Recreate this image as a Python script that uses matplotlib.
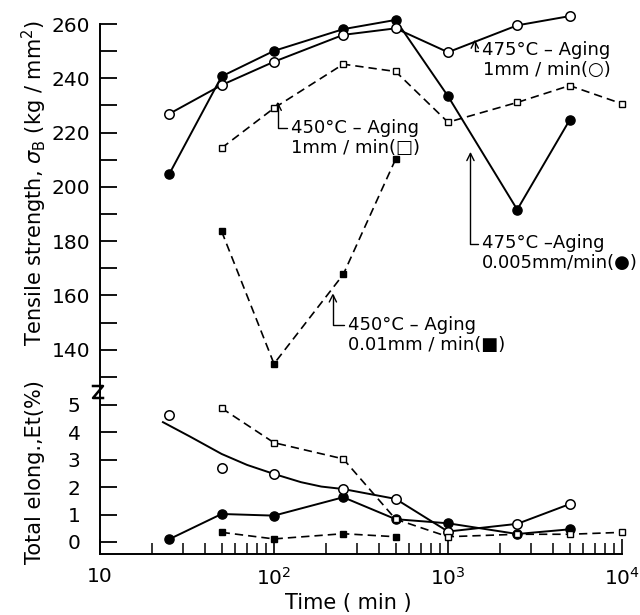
import matplotlib
matplotlib.use('Agg')
import matplotlib.pyplot as plt
from matplotlib.lines import Line2D
from matplotlib.ticker import MultipleLocator, FixedLocator, LogLocator, NullFormatter

plt.rcParams['font.family'] = ['DejaVu Sans']
plt.rcParams['mathtext.fontset'] = 'dejavusans'

# ---------------- data ----------------
t8 = [25, 50, 100, 250, 500, 1000, 2500, 5000]
t_sq_open = [50, 100, 250, 500, 1000, 2500, 5000, 10000]
t_sq_closed = [50, 100, 250, 500]

# tensile strength (kg/mm2)
ts_475_1 = [226.9, 237.5, 246.1, 256.0, 258.4, 249.6, 259.5, 262.9]      # open circle
ts_475_0005 = [204.7, 240.7, 250.1, 258.1, 261.5, 233.4, 191.6, 224.6]   # closed circle
ts_450_1 = [214.3, 229.0, 245.2, 242.5, 223.8, 231.1, 237.3, 230.6]      # open square
ts_450_001 = [183.6, 134.8, 167.7, 210.2]                                # closed square

# total elongation (%)
el_475_1 = [4.64, 2.69, 2.48, 1.93, 1.57, 0.38, 0.66, 1.38]
el_475_1_curve_t = [23, 33, 50, 70, 100, 143, 187, 250]
el_475_1_curve = [4.37, 3.84, 3.21, 2.81, 2.48, 2.18, 2.02, 1.93]
el_475_0005 = [0.10, 1.02, 0.96, 1.63, 0.83, 0.68, 0.29, 0.46]
el_450_1 = [4.88, 3.62, 3.03, 0.83, 0.19, 0.28, 0.28, 0.35]
el_450_001 = [0.35, 0.11, 0.30, 0.19]

x_ticks = [10, 100, 1000, 10000]
x_ticklabels = ['10', '$10^2$', '$10^3$', '$10^4$']
ts_ticks = [140, 160, 180, 200, 220, 240, 260]
el_ticks = [0, 1, 2, 3, 4, 5]

# ---------------- figure ----------------
W, H = 640, 615
fig = plt.figure(figsize=(6.4, 6.15), dpi=100)

def fx(px):
    return px / W

def fy(py):
    return 1 - py / H

ax_up = fig.add_axes([fx(100), fy(392), fx(622) - fx(100), fy(24) - fy(392)])
ax_lo = fig.add_axes([fx(100), fy(554), fx(622) - fx(100), fy(392) - fy(554)])

LW_S = 1.4
LW_D = 1.2
DASH = (5, 3)
OC = dict(marker='o', ms=6.8, mfc='white', mec='black', mew=1.1)
CC = dict(marker='o', ms=6.6, mfc='black', mec='black', mew=1.0)
OS = dict(marker='s', ms=5.0, mfc='white', mec='black', mew=1.0)
CS = dict(marker='s', ms=4.6, mfc='black', mec='black', mew=1.0)
TICK_FS = 14.5
LABEL_FS = 15
ANN_FS = 13

for ax in (ax_up, ax_lo):
    ax.set_xscale('log')
    ax.set_xlim(10, 10000)
    for s in ('top', 'right'):
        ax.spines[s].set_visible(False)
    ax.spines['left'].set_linewidth(1.4)
    ax.spines['bottom'].set_linewidth(1.4)
    ax.patch.set_alpha(0)

# ---- upper: tensile strength ----
ax_up.set_ylim(124.4, 260)
ax_up.spines['bottom'].set_visible(False)
ax_up.tick_params(axis='x', which='both', bottom=False, labelbottom=False)
ax_up.yaxis.set_major_locator(FixedLocator(ts_ticks))
ax_up.yaxis.set_minor_locator(MultipleLocator(10))
ax_up.tick_params(axis='y', which='both', direction='in', length=12, width=1.3,
                  labelsize=TICK_FS, pad=7)

ax_up.plot(t8, ts_475_1, color='black', lw=LW_S, clip_on=False, zorder=2)
ax_up.plot(t8, ts_475_0005, color='black', lw=LW_S, clip_on=False, zorder=2)
ax_up.plot(t_sq_open, ts_450_1, color='black', lw=LW_D, dashes=DASH, clip_on=False, zorder=2)
ax_up.plot(t_sq_closed, ts_450_001, color='black', lw=LW_D, dashes=DASH, clip_on=False, zorder=2)
ax_up.plot(t8, ts_475_0005, ls='none', clip_on=False, zorder=3, **CC)
ax_up.plot(t8, ts_475_1, ls='none', clip_on=False, zorder=4, **OC)
ax_up.plot(t_sq_open, ts_450_1, ls='none', clip_on=False, zorder=4, **OS)
ax_up.plot(t_sq_closed, ts_450_001, ls='none', clip_on=False, zorder=4, **CS)

def annot(ax, text, tip, txt, multi='left'):
    ax.annotate(text, xy=tip, xytext=txt, xycoords='data', textcoords='data',
                ha='left', va='center', fontsize=ANN_FS, multialignment=multi,
                linespacing=1.15, annotation_clip=False,
                arrowprops=dict(arrowstyle='->', lw=1.0, color='black',
                                connectionstyle='angle,angleA=0,angleB=90,rad=0',
                                shrinkA=1, shrinkB=0, relpos=(0, 0.75)))

annot(ax_up, '475°C – Aging\n1mm / min(○)', (1425, 254.3), (1574, 246.7), multi='center')
annot(ax_up, '450°C – Aging\n1mm / min(□)', (105, 231.4), (125, 218.0))
annot(ax_up, '475°C –Aging\n0.005mm/min(●)', (1346, 212.9), (1574, 175.6))
annot(ax_up, '450°C – Aging\n0.01mm / min(■)', (218, 160.8), (267, 145.4))

# ---- lower: elongation ----
ax_lo.set_ylim(-0.44, 5.47)
ax_lo.yaxis.set_major_locator(FixedLocator(el_ticks))
ax_lo.tick_params(axis='y', which='both', direction='in', length=12, width=1.3,
                  labelsize=TICK_FS, pad=14)
ax_lo.xaxis.set_major_locator(FixedLocator(x_ticks))
ax_lo.set_xticklabels(x_ticklabels)
ax_lo.xaxis.set_minor_locator(LogLocator(base=10, subs=range(2, 10)))
ax_lo.xaxis.set_minor_formatter(NullFormatter())
ax_lo.tick_params(axis='x', which='major', direction='in', length=11, width=1.2,
                  labelsize=TICK_FS, pad=9)
ax_lo.tick_params(axis='x', which='minor', direction='in', length=8, width=1.1)

ax_lo.plot(el_475_1_curve_t, el_475_1_curve, color='black', lw=LW_S, zorder=2)
ax_lo.plot(t8[3:], el_475_1[3:], color='black', lw=LW_S, zorder=2)
ax_lo.plot(t8, el_475_0005, color='black', lw=LW_S, zorder=2)
ax_lo.plot(t_sq_open, el_450_1, color='black', lw=LW_D, dashes=DASH, clip_on=False, zorder=2)
ax_lo.plot(t_sq_closed, el_450_001, color='black', lw=LW_D, dashes=DASH, zorder=2)
ax_lo.plot(t8, el_475_0005, ls='none', zorder=3, **CC)
ax_lo.plot(t8, el_475_1, ls='none', zorder=4, **OC)
ax_lo.plot(t_sq_open, el_450_1, ls='none', clip_on=False, zorder=4, **OS)
ax_lo.plot(t_sq_closed, el_450_001, ls='none', zorder=4, **CS)

# axis break mark "Z" on the left spine
zx, zy = 98, 392
zpts_x = [zx - 5, zx + 5, zx - 5, zx + 5]
zpts_y = [zy - 6, zy - 6, zy + 6, zy + 6]
fig.add_artist(Line2D([fx(p) for p in zpts_x], [fy(p) for p in zpts_y],
                      transform=fig.transFigure, color='black', lw=1.8))

# labels
fig.text(fx(34), fy(183), 'Tensile strength, $\\sigma_\\mathrm{B}$ (kg / mm$^2$)',
         rotation=90, ha='center', va='center', fontsize=LABEL_FS)
fig.text(fx(35), fy(472), 'Total elong.,Et(%)', rotation=90, ha='center',
         va='center', fontsize=LABEL_FS)
fig.text(fx(348), fy(603), 'Time ( min )', ha='center', va='center', fontsize=LABEL_FS)

fig.savefig('out.png', dpi=100)
